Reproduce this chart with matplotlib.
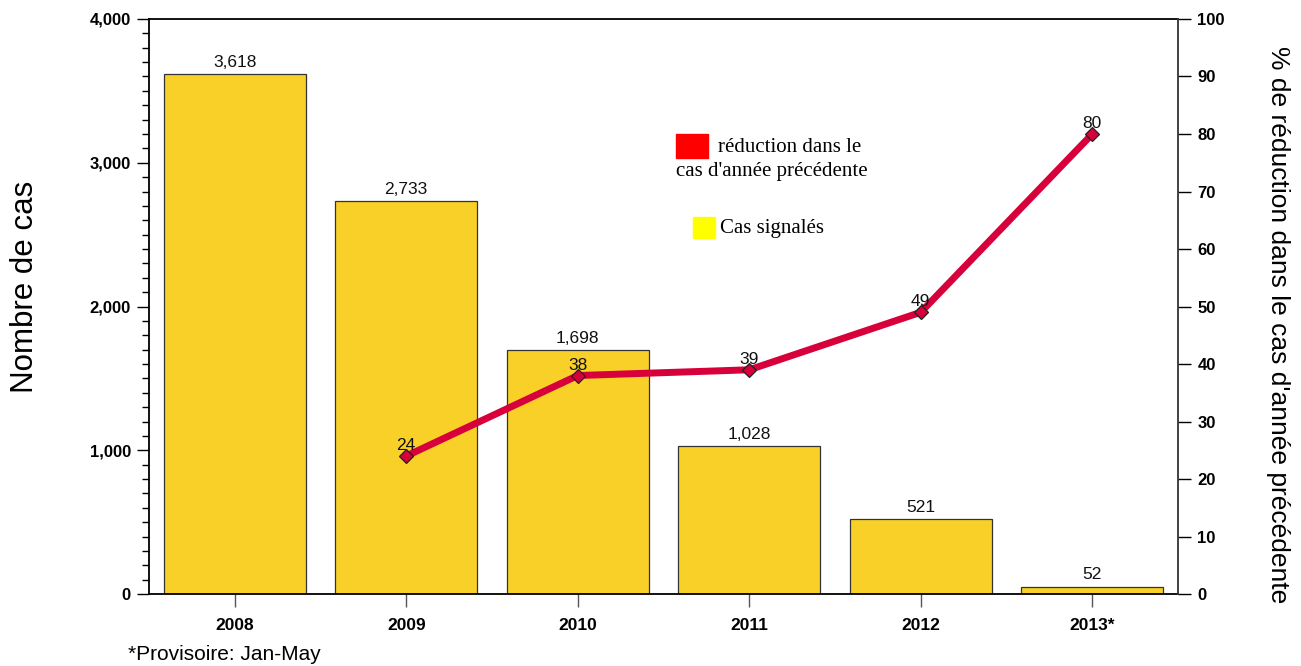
import numpy as np
import matplotlib
matplotlib.use('Agg')
import matplotlib.pyplot as plt
from matplotlib.ticker import MultipleLocator, FuncFormatter

# Data
years = ['2008', '2009', '2010', '2011', '2012', '2013*']
cases = [3618, 2733, 1698, 1028, 521, 52]
red_years = [1, 2, 3, 4, 5]          # index of 2009..2013*
reduction = [24, 38, 39, 49, 80]

bar_color = '#F9D028'
line_color = '#D8003A'

plt.rcParams['font.family'] = ['Liberation Sans', 'DejaVu Sans']

fig = plt.figure(figsize=(13.01, 6.66), dpi=100)
ax = fig.add_axes([0.1145, 0.108, 0.791, 0.8635])
x = np.arange(len(years))

# Bars
ax.bar(x, cases, width=0.83, color=bar_color, edgecolor='#333333', linewidth=0.9, zorder=2)
for xi, v in zip(x, cases):
    ax.annotate(f'{v:,}', (xi, v), xytext=(0, 3), textcoords='offset points',
                ha='center', va='bottom', fontsize=12.5, color='#111111')

ax.set_xlim(-0.5, 5.5)
ax.set_ylim(0, 4000)
ax.yaxis.set_major_locator(MultipleLocator(1000))
ax.yaxis.set_minor_locator(MultipleLocator(100))
ax.yaxis.set_major_formatter(FuncFormatter(lambda v, p: f'{int(v):,}'))
ax.tick_params(axis='y', which='major', length=9, width=1, labelsize=12, direction='out', pad=4)
ax.tick_params(axis='y', which='minor', length=5, width=1, direction='out')
for lab in ax.get_yticklabels():
    lab.set_fontweight('bold')
ax.set_xticks(x)
ax.set_xticklabels(years, fontweight='bold', fontsize=12.5)
ax.tick_params(axis='x', length=9, width=1, color='#555555', pad=8)

for s in ['left', 'top', 'bottom']:
    ax.spines[s].set_color('black')
    ax.spines[s].set_linewidth(1.3)
ax.spines['right'].set_visible(False)

# Line on secondary axis
ax2 = ax.twinx()
ax2.set_ylim(0, 100)
ax2.yaxis.set_major_locator(MultipleLocator(10))
ax2.tick_params(axis='y', length=9, width=1, labelsize=12, pad=5)
for lab in ax2.get_yticklabels():
    lab.set_fontweight('bold')
ax2.spines['right'].set_color('#333333')
ax2.spines['right'].set_linewidth(1.3)
for s in ['left', 'top', 'bottom']:
    ax2.spines[s].set_visible(False)
ax2.plot(red_years, reduction, color=line_color, linewidth=5, marker='D', markersize=7,
         markerfacecolor=line_color, markeredgecolor='#222222', markeredgewidth=0.9, zorder=3)
for xi, v in zip(red_years, reduction):
    ax2.annotate(str(v), (xi, v), xytext=(0, 2), textcoords='offset points',
                 ha='center', va='bottom', fontsize=12.5, color='#111111')

# Axis titles
fig.text(25 / 1301, 1 - 287 / 666, 'Nombre de cas', fontsize=22.5, rotation=90,
         ha='center', va='center')
fig.text(1278 / 1301, 1 - 325 / 666, "% de réduction dans le cas d'année précédente",
         fontsize=19, rotation=270, ha='center', va='center')

# Custom legend
fig.patches.append(plt.Rectangle((676 / 1301, 1 - 158 / 666), 32 / 1301, 24 / 666,
                                 transform=fig.transFigure, color='#FF0000'))
fig.text(718 / 1301, 1 - 147 / 666, 'réduction dans le', fontsize=15,
         family='Liberation Serif', va='center', ha='left')
fig.text(676 / 1301, 1 - 172 / 666, "cas d'année précédente", fontsize=15,
         family='Liberation Serif', va='center', ha='left')
fig.patches.append(plt.Rectangle((693 / 1301, 1 - 238 / 666), 22 / 1301, 21 / 666,
                                 transform=fig.transFigure, color='#FFFF00'))
fig.text(720 / 1301, 1 - 229 / 666, 'Cas signalés', fontsize=15,
         family='Liberation Serif', va='center', ha='left')

fig.text(128 / 1301, 1 - 655 / 666, '*Provisoire: Jan-May', fontsize=15, va='center', ha='left')

fig.savefig('out.png', dpi=100)
